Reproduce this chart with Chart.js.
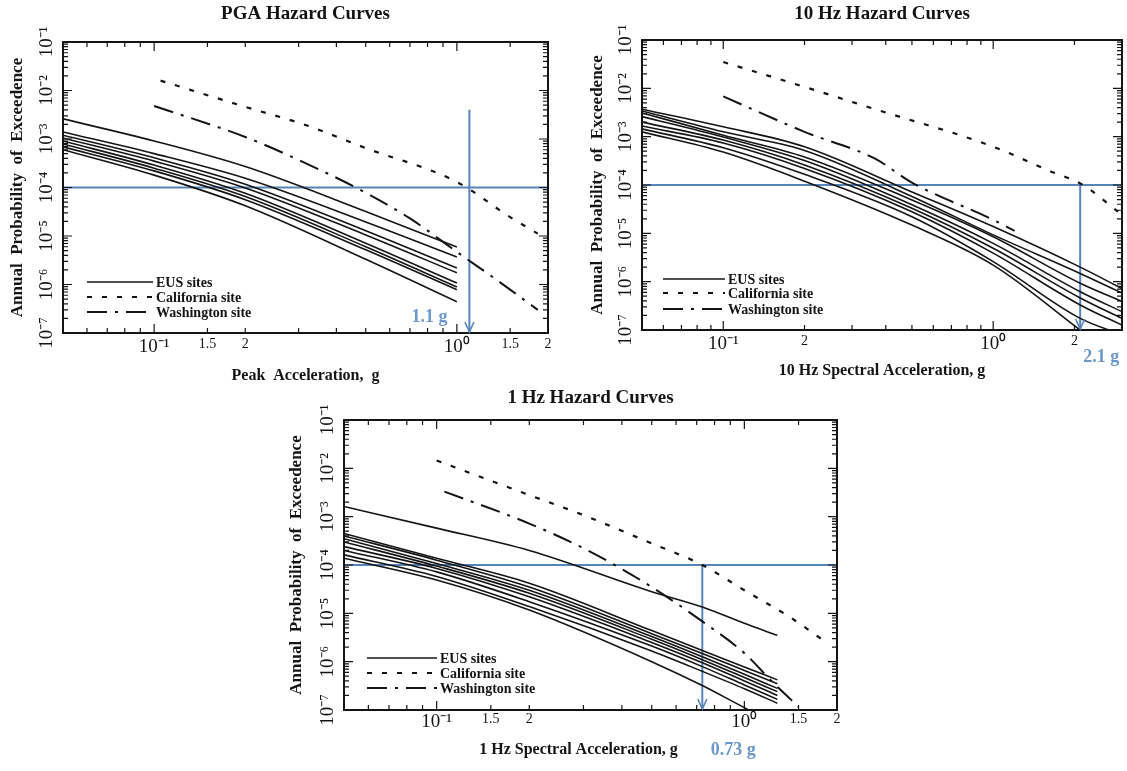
<!DOCTYPE html>
<html>
<head>
<meta charset="utf-8">
<title>Hazard Curves</title>
<script src="https://cdn.jsdelivr.net/npm/chart.js@4.4.1/dist/chart.umd.min.js"></script>
<style>
  body { margin: 0; background: #fff; }
  #page { position: relative; width: 1127px; height: 771px; overflow: hidden; background: #fff; }
  canvas { position: absolute; }
</style>
</head>
<body>
<div id="page">
  <canvas id="pgaChart" width="556" height="392" style="left:0px;top:0px"></canvas>
  <canvas id="hz10Chart" width="551" height="392" style="left:576px;top:0px"></canvas>
  <canvas id="hz1Chart" width="571" height="387" style="left:276px;top:384px"></canvas>
</div>
<script>
// ---------- PGA hazard curves ----------
const pgaEusX = [0.05, 0.1, 0.2, 0.5, 1.0];
const pgaEus = [
  [2.6e-3, 9.1e-4, 2.7e-4, 3.2e-5, 5.9e-6],
  [1.4e-3, 5.0e-4, 1.55e-4, 1.95e-5, 3.7e-6],
  [1.2e-3, 4.1e-4, 1.17e-4, 1.29e-5, 2.2e-6],
  [1.05e-3, 3.5e-4, 9.8e-5, 1.05e-5, 1.74e-6],
  [9.1e-4, 2.9e-4, 7.6e-5, 7.1e-6, 1.07e-6],
  [7.9e-4, 2.5e-4, 6.5e-5, 6.0e-6, 8.9e-7],
  [6.9e-4, 2.2e-4, 5.6e-5, 5.2e-6, 7.8e-7],
  [6.0e-4, 1.8e-4, 4.2e-5, 3.3e-6, 4.4e-7]
];
const pgaCalX = [0.105, 0.2, 0.316, 0.5, 1.0, 1.5, 1.85];
const pgaCal = [1.6e-2, 4.6e-3, 1.95e-3, 6.5e-4, 1.3e-4, 2.45e-5, 1.12e-5];
const pgaWasX = [0.1, 0.2, 0.3, 0.5, 0.7, 1.0, 1.4, 1.85];
const pgaWas = [4.8e-3, 1.1e-3, 3.7e-4, 7.8e-5, 2.3e-5, 4.7e-6, 1.07e-6, 3.0e-7];
const pgaMark = 1.1, pgaMarkTop = 4e-3;

// ---------- 10 Hz hazard curves ----------
const hz10EusX = [0.05, 0.1, 0.2, 0.5, 1.0, 2.1, 3.0];
const hz10Eus = [
  [3.7e-3, 1.6e-3, 6.2e-4, 7.2e-5, 1.38e-5, 2.0e-6, 7.2e-7],
  [3.4e-3, 1.26e-3, 5.2e-4, 5.8e-5, 9.3e-6, 1.48e-6, 5.8e-7],
  [3.1e-3, 1.07e-3, 3.8e-4, 4.9e-5, 8.5e-6, 9.3e-7, 3.9e-7],
  [2.6e-3, 9.8e-4, 3.2e-4, 3.9e-5, 6.2e-6, 6.2e-7, 2.4e-7],
  [2.0e-3, 8.5e-4, 2.6e-4, 3.3e-5, 4.9e-6, 4.6e-7, 1.74e-7],
  [1.66e-3, 7.4e-4, 2.2e-4, 2.8e-5, 3.9e-6, 3.3e-7, 1.26e-7],
  [1.45e-3, 5.9e-4, 1.66e-4, 2.2e-5, 2.6e-6, 1.74e-7, 8.0e-8],
  [1.26e-3, 4.8e-4, 1.2e-4, 1.48e-5, 2.2e-6, 1.0e-7, 2.2e-8]
];
const hz10CalX = [0.1, 0.2, 0.365, 1.0, 1.6, 2.15, 2.9];
const hz10Cal = [3.5e-2, 1.07e-2, 3.7e-3, 6.2e-4, 2.0e-4, 1.0e-4, 2.8e-5];
const hz10WasX = [0.1, 0.2, 0.365, 0.5, 1.0, 1.2];
const hz10Was = [6.8e-3, 1.26e-3, 3.5e-4, 1.12e-4, 1.9e-5, 1.12e-5];
const hz10Mark = 2.1, hz10MarkTop = 1e-4;

// ---------- 1 Hz hazard curves ----------
const hz1EusX = [0.05, 0.1, 0.2, 0.5, 0.73, 1.0, 1.28];
const hz1Eus = [
  [1.62e-3, 5.8e-4, 2.0e-4, 2.8e-5, 1.35e-5, 6.2e-6, 3.5e-6],
  [4.5e-4, 1.38e-4, 4.2e-5, 4.4e-6, 1.7e-6, 7.8e-7, 4.2e-7],
  [4.0e-4, 1.26e-4, 3.5e-5, 3.8e-6, 1.48e-6, 6.6e-7, 3.5e-7],
  [3.5e-4, 1.07e-4, 3.0e-5, 3.3e-6, 1.26e-6, 5.5e-7, 2.8e-7],
  [3.0e-4, 9.5e-5, 2.6e-5, 2.9e-6, 1.1e-6, 4.7e-7, 2.4e-7],
  [2.4e-4, 8.5e-5, 2.2e-5, 2.5e-6, 9.5e-7, 4.0e-7, 2.0e-7],
  [2.0e-4, 7.2e-5, 1.74e-5, 2.1e-6, 7.9e-7, 3.3e-7, 1.66e-7],
  [1.62e-4, 5.8e-5, 1.38e-5, 1.66e-6, 6.3e-7, 2.75e-7, 1.38e-7],
  [1.38e-4, 4.9e-5, 1.17e-5, 1.0e-6, 3.2e-7, 1.12e-7, 5.1e-8]
];
const hz1CalX = [0.1, 0.2, 0.29, 0.5, 0.73, 1.0, 1.4, 1.8];
const hz1Cal = [1.45e-2, 2.8e-3, 1.17e-3, 2.8e-4, 1.0e-4, 3.0e-5, 8.5e-6, 2.8e-6];
const hz1WasX = [0.106, 0.2, 0.31, 0.5, 0.73, 1.0, 1.25, 1.5];
const hz1Was = [3.3e-3, 7.2e-4, 2.0e-4, 3.5e-5, 6.8e-6, 1.5e-6, 3.5e-7, 1.17e-7];
const hz1Mark = 0.73, hz1MarkTop = 1e-4;

// guide level and axis labels
const guideLevel = 1e-4;
const yLabelValues = [1e-7, 1e-6, 1e-5, 1e-4, 1e-3, 1e-2, 1e-1];
const yLabelText = ['10\u207B\u2077', '10\u207B\u2076', '10\u207B\u2075', '10\u207B\u2074', '10\u207B\u00B3', '10\u207B\u00B2', '10\u207B\u00B9'];
const pgaXLabelValues = [0.1, 0.15, 0.2, 1, 1.5, 2];
const pgaXLabelText = ['10\u207B\u00B9', '1.5', '2', '10\u2070', '1.5', '2'];
const hz10XLabelValues = [0.1, 0.2, 1, 2];
const hz10XLabelText = ['10\u207B\u00B9', '2', '10\u2070', '2'];

const SERIF = "'Liberation Serif', 'Times New Roman', serif";
const INK = '#141414';
const BLUE = '#5784b9';
const BLUE_TEXT = '#6b98cb';
const CAL_DASH = [5, 10];
const WAS_DASH = [20, 8, 3, 8];

function isDecade(v) {
  const l = Math.log10(v);
  return Math.abs(l - Math.round(l)) < 1e-6;
}
function sameVal(a, b) { return Math.abs(Math.log10(a) - Math.log10(b)) < 1e-6; }
function labelFor(values, texts, v) {
  const i = values.findIndex(w => sameVal(w, v));
  return i >= 0 ? texts[i] : '';
}
// tick marks at 1..9 x 10^n plus the labelled positions
function tickList(lo, hi, extra) {
  const out = [];
  for (let e = -8; e <= 1; e++) {
    for (let m = 1; m <= 9; m++) {
      const v = +(m * Math.pow(10, e)).toPrecision(6);
      if (v >= lo * 0.999 && v <= hi * 1.001) out.push(v);
    }
  }
  extra.forEach(v => { if (!out.some(w => sameVal(w, v))) out.push(v); });
  return out.sort((a, b) => a - b);
}
function pts(xs, ys) { return xs.map((x, i) => ({ x: x, y: ys[i] })); }

const hazardFrame = {
  id: 'hazardFrame',
  afterDatasetsDraw(chart, args, o) {
    const { ctx, chartArea: a, scales: { x, y } } = chart;
    ctx.save();
    // frame
    ctx.strokeStyle = INK;
    ctx.lineWidth = 2;
    ctx.strokeRect(a.left, a.top, a.right - a.left, a.bottom - a.top);
    // inward ticks on all four sides
    ctx.lineWidth = 1.2;
    ctx.beginPath();
    x.ticks.forEach(t => {
      const px = x.getPixelForValue(t.value);
      const len = isDecade(t.value) ? 9 : 5;
      ctx.moveTo(px, a.bottom); ctx.lineTo(px, a.bottom - len);
      ctx.moveTo(px, a.top); ctx.lineTo(px, a.top + len);
    });
    y.ticks.forEach(t => {
      const py = y.getPixelForValue(t.value);
      const len = isDecade(t.value) ? 9 : 5;
      ctx.moveTo(a.left, py); ctx.lineTo(a.left + len, py);
      ctx.moveTo(a.right, py); ctx.lineTo(a.right - len, py);
    });
    ctx.stroke();

    // legend inside the lower-left corner
    const lg = o.legend;
    const items = [
      { text: 'EUS sites', dash: [], w: 1.6 },
      { text: 'California site', dash: CAL_DASH, w: 2 },
      { text: 'Washington site', dash: WAS_DASH, w: 1.8 }
    ];
    ctx.font = 'bold 14px ' + SERIF;
    ctx.textBaseline = 'middle';
    ctx.textAlign = 'left';
    ctx.fillStyle = INK;
    items.forEach((it, i) => {
      const ly = a.bottom - lg.rows[i];
      const lx = a.left + lg.left;
      ctx.setLineDash(it.dash);
      ctx.lineWidth = it.w;
      ctx.beginPath();
      ctx.moveTo(lx, ly); ctx.lineTo(lx + lg.len, ly);
      ctx.stroke();
      ctx.setLineDash([]);
      ctx.fillText(it.text, lx + lg.len + 3, ly + 1);
    });

    // arrow head on the blue guide and its value label
    const mx = x.getPixelForValue(o.mark);
    ctx.strokeStyle = BLUE;
    ctx.lineWidth = 1.6;
    ctx.beginPath();
    ctx.moveTo(mx - 4.5, a.bottom - 11);
    ctx.lineTo(mx, a.bottom - 1);
    ctx.lineTo(mx + 4.5, a.bottom - 11);
    ctx.stroke();
    ctx.fillStyle = BLUE_TEXT;
    ctx.font = 'bold 18px ' + SERIF;
    ctx.textAlign = 'center';
    ctx.fillText(o.markText, mx + o.markDx, a.bottom + o.markDy);
    ctx.restore();
  }
};

function makeChart(id, c) {
  const datasets = [];
  c.eus.forEach(ys => datasets.push({
    data: pts(c.eusX, ys), borderColor: INK, borderWidth: 1.6, cubicInterpolationMode: 'monotone'
  }));
  datasets.push({ data: pts(c.calX, c.cal), borderColor: INK, borderWidth: 2.2, borderDash: CAL_DASH, cubicInterpolationMode: 'monotone' });
  datasets.push({ data: pts(c.wasX, c.was), borderColor: INK, borderWidth: 2, borderDash: WAS_DASH, cubicInterpolationMode: 'monotone' });
  datasets.push({ data: [{ x: c.xMin, y: guideLevel }, { x: c.xMax, y: guideLevel }], borderColor: BLUE, borderWidth: 2 });
  datasets.push({ data: [{ x: c.mark, y: c.markTop }, { x: c.mark, y: 1e-7 }], borderColor: BLUE, borderWidth: 2 });

  const xTicks = tickList(c.xMin, c.xMax, c.xLabelValues);
  const yTicks = tickList(1e-7, 1e-1, []);

  return new Chart(document.getElementById(id), {
    type: 'line',
    data: { datasets: datasets },
    options: {
      responsive: false,
      animation: false,
      events: [],
      elements: { point: { radius: 0, hoverRadius: 0 }, line: { fill: false } },
      layout: { padding: { left: 0, top: 0, right: c.padRight, bottom: 0 } },
      plugins: {
        legend: { display: false },
        tooltip: { enabled: false },
        title: {
          display: true, text: c.title, fullSize: false, color: INK,
          font: { family: SERIF, size: 19, weight: 'bold' },
          padding: { top: 3, bottom: c.titleGap }
        },
        hazardFrame: {
          legend: c.legend, mark: c.mark, markText: c.markText, markDx: c.markDx, markDy: c.markDy
        }
      },
      scales: {
        x: {
          type: 'logarithmic', min: c.xMin, max: c.xMax,
          grid: { display: false, drawTicks: false },
          border: { display: false },
          afterBuildTicks: s => { s.ticks = xTicks.map(v => ({ value: v })); },
          afterFit: s => { s.height = c.xAxisH; s.paddingLeft = 0; s.paddingRight = 0; },
          ticks: {
            autoSkip: false, minRotation: 0, maxRotation: 0, padding: c.xTickPad, color: INK,
            font: ctx => ({ family: SERIF, size: (ctx.tick && isDecade(ctx.tick.value)) ? 19 : 14 }),
            callback: v => labelFor(c.xLabelValues, c.xLabelText, v)
          },
          title: {
            display: true, text: c.xTitle, color: INK,
            font: { family: SERIF, size: 16, weight: 'bold' },
            padding: { top: 0, bottom: c.xTitleGap }
          }
        },
        y: {
          type: 'logarithmic', min: 1e-7, max: 1e-1,
          grid: { display: false, drawTicks: false },
          border: { display: false },
          afterBuildTicks: s => { s.ticks = yTicks.map(v => ({ value: v })); },
          afterFit: s => { s.width = c.yAxisW; s.paddingTop = 0; s.paddingBottom = 0; },
          ticks: {
            autoSkip: false, minRotation: 90, maxRotation: 90, crossAlign: 'center',
            padding: c.yTickPad, color: INK,
            font: { family: SERIF, size: 19 },
            callback: v => labelFor(yLabelValues, yLabelText, v)
          },
          title: {
            display: true, text: 'Annual  Probability  of  Exceedence', color: INK,
            font: { family: SERIF, size: 17, weight: 'bold' },
            padding: { top: c.yTitleGap, bottom: 0 }
          }
        }
      }
    },
    plugins: [hazardFrame]
  });
}

makeChart('pgaChart', {
  title: 'PGA Hazard Curves', xTitle: 'Peak  Acceleration,  g',
  eusX: pgaEusX, eus: pgaEus, calX: pgaCalX, cal: pgaCal, wasX: pgaWasX, was: pgaWas,
  xMin: 0.05, xMax: 2, xLabelValues: pgaXLabelValues, xLabelText: pgaXLabelText,
  mark: pgaMark, markTop: pgaMarkTop, markText: '1.1 g', markDx: -40, markDy: -16,
  padRight: 8, titleGap: 16.2, yAxisW: 63, xAxisH: 59, xTickPad: 3, xTitleGap: 6.4,
  yTickPad: 0, yTitleGap: 7.8,
  legend: { left: 24, len: 66, rows: [51, 36, 21] }
});

makeChart('hz10Chart', {
  title: '10 Hz Hazard Curves', xTitle: '10 Hz Spectral Acceleration, g',
  eusX: hz10EusX, eus: hz10Eus, calX: hz10CalX, cal: hz10Cal, wasX: hz10WasX, was: hz10Was,
  xMin: 0.05, xMax: 3, xLabelValues: hz10XLabelValues, xLabelText: hz10XLabelText,
  mark: hz10Mark, markTop: hz10MarkTop, markText: '2.1 g', markDx: 21, markDy: 27,
  padRight: 5, titleGap: 14.2, yAxisW: 66, xAxisH: 62, xTickPad: 3, xTitleGap: 11.4,
  yTickPad: 0, yTitleGap: 11.8,
  legend: { left: 21, len: 62, rows: [51, 37, 21] }
});

makeChart('hz1Chart', {
  title: '1 Hz Hazard Curves', xTitle: '1 Hz Spectral Acceleration, g      ',
  eusX: hz1EusX, eus: hz1Eus, calX: hz1CalX, cal: hz1Cal, wasX: hz1WasX, was: hz1Was,
  xMin: 0.05, xMax: 2, xLabelValues: pgaXLabelValues, xLabelText: pgaXLabelText,
  mark: hz1Mark, markTop: hz1MarkTop, markText: '0.73 g', markDx: 31, markDy: 40,
  padRight: 10, titleGap: 10.2, yAxisW: 68, xAxisH: 61, xTickPad: 1, xTitleGap: 11.4,
  yTickPad: 0, yTitleGap: 10.8,
  legend: { left: 23, len: 70, rows: [52, 37, 22] }
});
</script>
</body>
</html>
